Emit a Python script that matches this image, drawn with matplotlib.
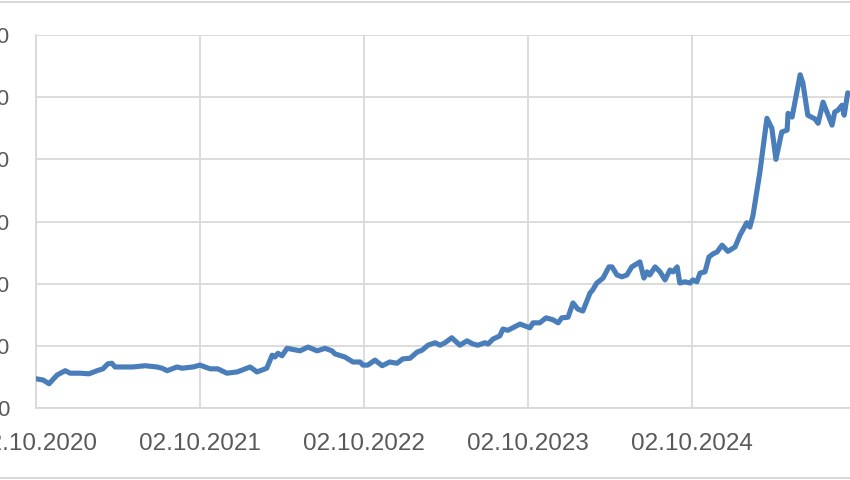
import pandas as pd
import matplotlib.pyplot as plt
from matplotlib.lines import Line2D
import matplotlib.dates as mdates

# days since 02.10.2020 and the price on that day
start = pd.Timestamp("2020-10-02")
days = [0, 16, 29, 47, 65, 76, 98, 118, 136, 149, 160, 169, 176, 194, 216, 243,
        269, 281, 292, 314, 325, 350, 365, 388, 405, 425, 448, 477, 492, 514,
        526, 532, 539, 548, 559, 588, 606, 626, 644, 659, 666, 688, 706, 722,
        728, 739, 755, 771, 788, 804, 817, 833, 849, 860, 873, 889, 900, 911,
        926, 944, 960, 973, 984, 1000, 1007, 1018, 1033, 1040, 1051, 1062, 1078,
        1089, 1100, 1107, 1122, 1136, 1151, 1163, 1171, 1185, 1196, 1207, 1218,
        1234, 1240, 1249, 1263, 1276, 1283, 1294, 1305, 1316, 1327, 1338, 1345,
        1354, 1361, 1367, 1379, 1390, 1401, 1412, 1419, 1428, 1434, 1445, 1457,
        1463, 1472, 1479, 1490, 1499, 1508, 1517, 1528, 1541, 1557, 1568, 1583,
        1590, 1597, 1612, 1628, 1639, 1648, 1661, 1673, 1675, 1684, 1702, 1708,
        1719, 1735, 1742, 1753, 1773, 1779, 1786, 1795, 1800, 1808]
values = [47, 45, 39, 53, 60, 56, 56, 55, 60, 63, 71, 72, 66, 66, 66, 68,
          66, 64, 60, 66, 64, 66, 69, 63, 63, 56, 58, 66, 58, 64,
          85, 82, 88, 84, 96, 92, 98, 92, 96, 92, 87, 82, 74, 74,
          69, 69, 77, 68, 74, 72, 79, 80, 90, 93, 101, 105, 101, 105,
          113, 101, 108, 103, 101, 105, 103, 111, 116, 127, 125, 129, 135,
          132, 129, 137, 137, 145, 142, 137, 145, 146, 169, 159, 156,
          185, 190, 201, 209, 227, 227, 214, 211, 214, 227, 232, 235,
          209, 219, 214, 227, 219, 206, 222, 219, 227, 201, 203, 201,
          206, 203, 217, 219, 243, 248, 251, 262, 252, 259, 278, 298,
          291, 310, 378, 466, 450, 400, 444, 447, 474, 468, 536, 523,
          471, 465, 458, 492, 455, 476, 479, 487, 471, 507]
tick_dates = ["2020-10-02", "2021-10-02", "2022-10-02", "2023-10-02", "2024-10-02"]
y_ticks = [0, 100, 200, 300, 400, 500, 600]

dates = start + pd.to_timedelta(days, unit="D")

plt.rcParams['font.family'] = ['Liberation Sans', 'DejaVu Sans']
grid_col = "#D9D9D9"
text_col = "#595959"

fig = plt.figure(figsize=(8.5, 4.8), dpi=100)
ax = fig.add_axes([36 / 850, 72 / 480, 1 - 36 / 850, 373 / 480])

ax.plot(dates, values, color="#4A7EBB", linewidth=3.7, solid_joinstyle="round",
        solid_capstyle="round", zorder=3)

ax.set_ylim(0, 600)
ax.set_yticks(y_ticks)
ax.set_xlim(start, start + pd.Timedelta(days=1813))
ax.set_xticks(pd.to_datetime(tick_dates))
ax.xaxis.set_major_formatter(mdates.DateFormatter("%d.%m.%Y"))

ax.grid(True, color=grid_col, linewidth=1.3)
ax.set_axisbelow(True)
for s in ["top", "right"]:
    ax.spines[s].set_visible(False)
for s in ["left", "bottom"]:
    ax.spines[s].set_color(grid_col)
    ax.spines[s].set_linewidth(1.3)
ax.tick_params(axis="x", length=0, pad=18, labelsize=17.5, labelcolor=text_col)
ax.tick_params(axis="y", length=0, pad=19, labelsize=16, labelcolor=text_col)

# thin frame lines of the chart box
fig.add_artist(Line2D([0, 1], [1 - 1.5 / 480, 1 - 1.5 / 480], color=grid_col, linewidth=1.5))
fig.add_artist(Line2D([0, 1], [2 / 480, 2 / 480], color=grid_col, linewidth=1.5))

plt.savefig("out.png", dpi=100)
